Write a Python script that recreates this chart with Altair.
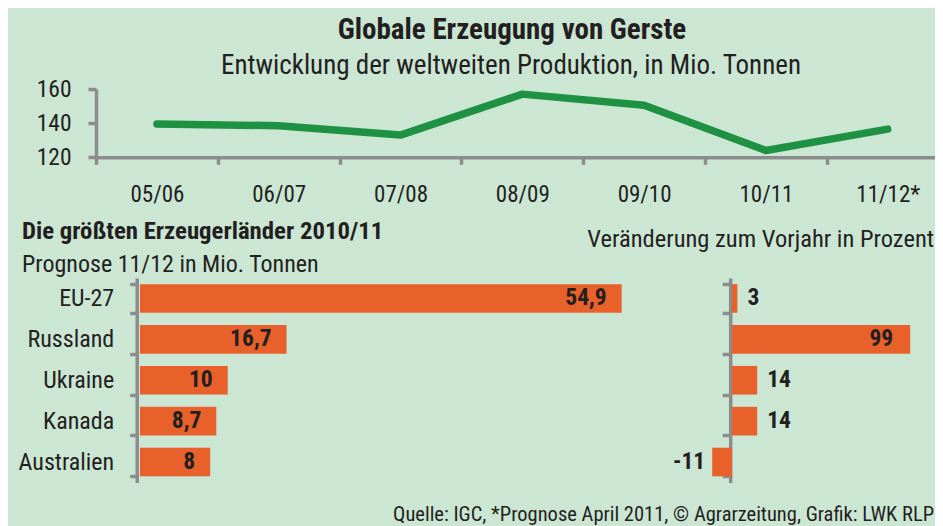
import altair as alt
import pandas as pd

# ---------------- data ----------------
seasons = ["05/06", "06/07", "07/08", "08/09", "09/10", "10/11", "11/12*"]
production = [139.5, 138.5, 133.0, 157.0, 150.5, 124.0, 136.5]

countries = ["EU-27", "Russland", "Ukraine", "Kanada", "Australien"]
forecast = [54.9, 16.7, 10.0, 8.7, 8.0]
change = [3, 99, 14, 14, -11]

title_text = "Globale Erzeugung von Gerste"
subtitle_text = "Entwicklung der weltweiten Produktion, in Mio. Tonnen"
left_title_text = "Die größten Erzeugerländer 2010/11"
left_sub_text = "Prognose 11/12 in Mio. Tonnen"
right_title_text = "Veränderung zum Vorjahr in Prozent"
footer_text = "Quelle: IGC, *Prognose April 2011, © Agrarzeitung, Grafik: LWK RLP"

# ---------------- style ----------------
FONT = "Roboto Condensed, Liberation Sans Narrow, DejaVu Sans Condensed, sans-serif"
BG = "#cce6d4"
GREEN = "#1f9142"
ORANGE = "#e8612a"
GREY = "#8c8c8c"
TXT = "#231f20"
W, H = 927, 518


def de(v):
    s = f"{v:g}"
    return s.replace(".", ",")


line_df = pd.DataFrame({"season": seasons, "prod": production})
bar_df = pd.DataFrame({
    "country": countries,
    "forecast": forecast,
    "flabel": [de(v) for v in forecast],
    "change": change,
    "clabel": [de(v) for v in change],
})

axis_common = dict(
    domainColor=GREY, domainWidth=3.5, tickColor=GREY, tickWidth=3.5,
    labelFont=FONT, labelColor=TXT, title=None, grid=False, labelOverlap=False,
)

# ---------------- top line chart ----------------
line = alt.Chart(line_df).mark_line(
    color=GREEN, strokeWidth=7.5, strokeCap="round", strokeJoin="round"
).encode(
    x=alt.X(
        "season:N", sort=seasons,
        scale=alt.Scale(type="band", range=[88, 940.6], paddingInner=0, paddingOuter=0),
        axis=alt.Axis(orient="bottom", offset=-(H - 149.3), tickBand="extent",
                      tickSize=7, labelPadding=19, labelFontSize=23, labelAngle=0,
                      **axis_common),
    ),
    y=alt.Y(
        "prod:Q",
        scale=alt.Scale(domain=[120, 160], range=[149.3, 81], nice=False, zero=False),
        axis=alt.Axis(orient="left", offset=-88, values=[120, 140, 160], tickSize=8,
                      labelPadding=17, labelFontSize=23.5, **axis_common),
    ),
)

# ---------------- left bar chart ----------------
yL = alt.Y(
    "country:N", sort=countries,
    scale=alt.Scale(type="band", range=[270, 474.5], paddingInner=0.3, paddingOuter=0.15),
    axis=alt.Axis(orient="left", offset=-128.7, tickBand="extent", tickSize=7,
                  labelPadding=16, labelFontSize=24, **axis_common),
)
xL = alt.X("forecast:Q", scale=alt.Scale(domain=[0, 60], range=[132, 658.4], nice=False),
           axis=None)
barsL = alt.Chart(bar_df).mark_bar(color=ORANGE).encode(x=xL, y=yL)
textL = alt.Chart(bar_df).mark_text(
    align="right", baseline="middle", dx=-15, font=FONT, fontSize=23.5,
    fontWeight="bold", color=TXT
).encode(x=xL, y=yL, text="flabel:N")
left = alt.layer(barsL, textL)

# ---------------- right bar chart ----------------
yR = alt.Y(
    "country:N", sort=countries,
    scale=alt.Scale(type="band", range=[270, 474.5], paddingInner=0.3, paddingOuter=0.15),
    axis=alt.Axis(orient="left", offset=-722.2, tickBand="extent", tickSize=8,
                  labels=False, **axis_common),
)
xR = alt.X("change:Q", scale=alt.Scale(domain=[-15, 105], range=[697, 913], nice=False),
           axis=None)
barsR = alt.Chart(bar_df).mark_bar(color=ORANGE).encode(x=xR, y=yR)
txt_style = dict(baseline="middle", font=FONT, fontSize=23.5, fontWeight="bold", color=TXT)
textR_in = alt.Chart(bar_df).transform_filter("datum.change >= 50").mark_text(
    align="right", dx=-17, **txt_style).encode(x=xR, y=yR, text="clabel:N")
textR_out = alt.Chart(bar_df).transform_filter(
    "datum.change >= 0 && datum.change < 50").mark_text(
    align="left", dx=10, **txt_style).encode(x=xR, y=yR, text="clabel:N")
textR_neg = alt.Chart(bar_df).transform_filter("datum.change < 0").mark_text(
    align="right", dx=-7, **txt_style).encode(x=xR, y=yR, text="clabel:N")
right = alt.layer(barsR, textR_in, textR_out, textR_neg)


# ---------------- titles / annotations ----------------
def label(txt, x, y, size, weight="normal", align="left"):
    return alt.Chart(pd.DataFrame({"t": [txt]})).mark_text(
        align=align, baseline="alphabetic", font=FONT, fontSize=size,
        fontWeight=weight, color=TXT
    ).encode(x=alt.value(x), y=alt.value(y), text="t:N")


titles = [
    label(title_text, 504, 31, 29, "bold", "center"),
    label(subtitle_text, 503, 66, 27, "normal", "center"),
    label(left_title_text, 14, 231, 24.8, "bold", "left"),
    label(left_sub_text, 14, 263.5, 24, "normal", "left"),
    label(right_title_text, 926, 238.5, 24.5, "normal", "right"),
    label(footer_text, 926, 513, 20.5, "normal", "right"),
]

chart = alt.layer(line, left, right, *titles).resolve_scale(
    x="independent", y="independent"
).properties(
    width=W, height=H, padding=0, background=BG,
    autosize=alt.AutoSizeParams(type="none"),
).configure_view(stroke=None)

chart.save("out.html", embed_options={"renderer": "svg", "actions": False})
